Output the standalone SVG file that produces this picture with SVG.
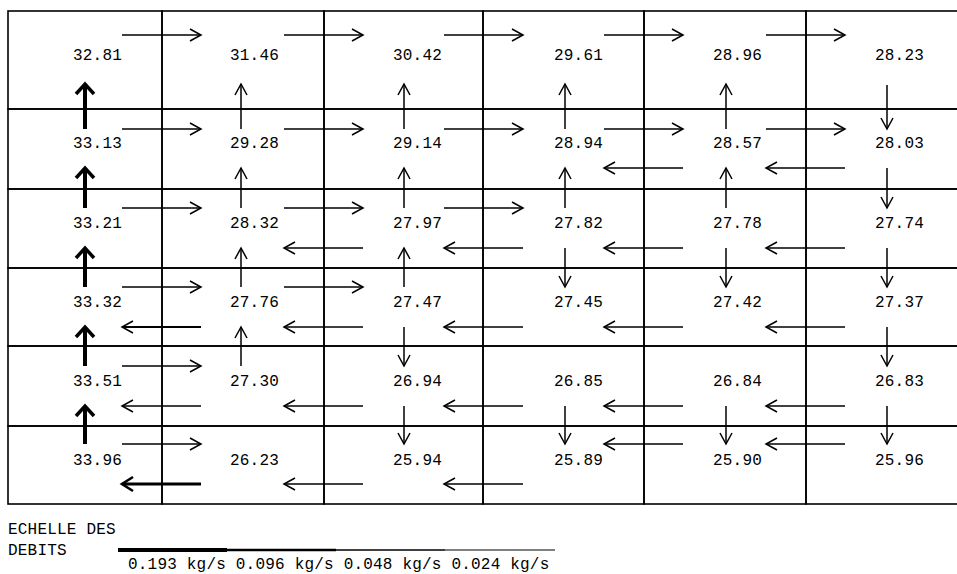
<svg xmlns="http://www.w3.org/2000/svg" width="957" height="574" viewBox="0 0 957 574">
<style>
  .cell{fill:none;stroke:#000;stroke-width:1.6}
  .val{font-family:"Liberation Mono","DejaVu Sans Mono",monospace;font-size:16px;letter-spacing:0.2px;fill:#000}
  .a{fill:none;stroke:#000;stroke-width:1.5;marker-end:url(#h)}
  .am{stroke-width:2.2}
  .at{stroke-width:4;marker-end:url(#ht)}
  .ab{stroke-width:3;marker-end:url(#hb)}
</style>
<defs>
  <marker id="h" markerUnits="userSpaceOnUse" viewBox="-14 -9 16 18" markerWidth="16" markerHeight="18" refX="0" refY="0" orient="auto" overflow="visible">
    <path d="M-11,-6 L0,0 L-11,6" fill="none" stroke="#000" stroke-width="1.5"/>
  </marker>
  <marker id="ht" markerUnits="userSpaceOnUse" viewBox="-14 -12 16 24" markerWidth="16" markerHeight="24" refX="0" refY="0" orient="auto" overflow="visible">
    <path d="M-10,-9 L0,0 L-10,9" fill="none" stroke="#000" stroke-width="3.5"/>
  </marker>
  <marker id="hb" markerUnits="userSpaceOnUse" viewBox="-14 -10 16 20" markerWidth="16" markerHeight="20" refX="0" refY="0" orient="auto" overflow="visible">
    <path d="M-11,-7 L0,0 L-11,7" fill="none" stroke="#000" stroke-width="2.6"/>
  </marker>
</defs>
<rect width="957" height="574" fill="#fff"/>

<g id="cell-r1c1"><rect class="cell" x="8" y="11" width="154" height="98"/><text class="val" x="73" y="60">32.81</text></g>
<g id="cell-r1c2"><rect class="cell" x="162" y="11" width="162" height="98"/><text class="val" x="230" y="60">31.46</text></g>
<g id="cell-r1c3"><rect class="cell" x="324" y="11" width="159" height="98"/><text class="val" x="393" y="60">30.42</text></g>
<g id="cell-r1c4"><rect class="cell" x="483" y="11" width="161" height="98"/><text class="val" x="554" y="60">29.61</text></g>
<g id="cell-r1c5"><rect class="cell" x="644" y="11" width="162" height="98"/><text class="val" x="713" y="60">28.96</text></g>
<g id="cell-r1c6"><rect class="cell" x="806" y="11" width="160" height="98"/><text class="val" x="875" y="60">28.23</text></g>

<g id="cell-r2c1"><rect class="cell" x="8" y="109" width="154" height="80"/><text class="val" x="73" y="148">33.13</text></g>
<g id="cell-r2c2"><rect class="cell" x="162" y="109" width="162" height="80"/><text class="val" x="230" y="148">29.28</text></g>
<g id="cell-r2c3"><rect class="cell" x="324" y="109" width="159" height="80"/><text class="val" x="393" y="148">29.14</text></g>
<g id="cell-r2c4"><rect class="cell" x="483" y="109" width="161" height="80"/><text class="val" x="554" y="148">28.94</text></g>
<g id="cell-r2c5"><rect class="cell" x="644" y="109" width="162" height="80"/><text class="val" x="713" y="148">28.57</text></g>
<g id="cell-r2c6"><rect class="cell" x="806" y="109" width="160" height="80"/><text class="val" x="875" y="148">28.03</text></g>

<g id="cell-r3c1"><rect class="cell" x="8" y="189" width="154" height="79"/><text class="val" x="73" y="228">33.21</text></g>
<g id="cell-r3c2"><rect class="cell" x="162" y="189" width="162" height="79"/><text class="val" x="230" y="228">28.32</text></g>
<g id="cell-r3c3"><rect class="cell" x="324" y="189" width="159" height="79"/><text class="val" x="393" y="228">27.97</text></g>
<g id="cell-r3c4"><rect class="cell" x="483" y="189" width="161" height="79"/><text class="val" x="554" y="228">27.82</text></g>
<g id="cell-r3c5"><rect class="cell" x="644" y="189" width="162" height="79"/><text class="val" x="713" y="228">27.78</text></g>
<g id="cell-r3c6"><rect class="cell" x="806" y="189" width="160" height="79"/><text class="val" x="875" y="228">27.74</text></g>

<g id="cell-r4c1"><rect class="cell" x="8" y="268" width="154" height="78"/><text class="val" x="73" y="307">33.32</text></g>
<g id="cell-r4c2"><rect class="cell" x="162" y="268" width="162" height="78"/><text class="val" x="230" y="307">27.76</text></g>
<g id="cell-r4c3"><rect class="cell" x="324" y="268" width="159" height="78"/><text class="val" x="393" y="307">27.47</text></g>
<g id="cell-r4c4"><rect class="cell" x="483" y="268" width="161" height="78"/><text class="val" x="554" y="307">27.45</text></g>
<g id="cell-r4c5"><rect class="cell" x="644" y="268" width="162" height="78"/><text class="val" x="713" y="307">27.42</text></g>
<g id="cell-r4c6"><rect class="cell" x="806" y="268" width="160" height="78"/><text class="val" x="875" y="307">27.37</text></g>

<g id="cell-r5c1"><rect class="cell" x="8" y="346" width="154" height="80"/><text class="val" x="73" y="386">33.51</text></g>
<g id="cell-r5c2"><rect class="cell" x="162" y="346" width="162" height="80"/><text class="val" x="230" y="386">27.30</text></g>
<g id="cell-r5c3"><rect class="cell" x="324" y="346" width="159" height="80"/><text class="val" x="393" y="386">26.94</text></g>
<g id="cell-r5c4"><rect class="cell" x="483" y="346" width="161" height="80"/><text class="val" x="554" y="386">26.85</text></g>
<g id="cell-r5c5"><rect class="cell" x="644" y="346" width="162" height="80"/><text class="val" x="713" y="386">26.84</text></g>
<g id="cell-r5c6"><rect class="cell" x="806" y="346" width="160" height="80"/><text class="val" x="875" y="386">26.83</text></g>

<g id="cell-r6c1"><rect class="cell" x="8" y="426" width="154" height="78"/><text class="val" x="73" y="465">33.96</text></g>
<g id="cell-r6c2"><rect class="cell" x="162" y="426" width="162" height="78"/><text class="val" x="230" y="465">26.23</text></g>
<g id="cell-r6c3"><rect class="cell" x="324" y="426" width="159" height="78"/><text class="val" x="393" y="465">25.94</text></g>
<g id="cell-r6c4"><rect class="cell" x="483" y="426" width="161" height="78"/><text class="val" x="554" y="465">25.89</text></g>
<g id="cell-r6c5"><rect class="cell" x="644" y="426" width="162" height="78"/><text class="val" x="713" y="465">25.90</text></g>
<g id="cell-r6c6"><rect class="cell" x="806" y="426" width="160" height="78"/><text class="val" x="875" y="465">25.96</text></g>

<g id="connectors">
  <!-- row 1 -->
  <path class="a" d="M122,35H201"/><path class="a" d="M284,35H363"/><path class="a" d="M444,35H523"/><path class="a" d="M604,35H683"/><path class="a" d="M766,35H845"/>
  <!-- row 2 -->
  <path class="a" d="M122,129H201"/><path class="a" d="M284,129H363"/><path class="a" d="M444,129H523"/><path class="a" d="M604,129H683"/><path class="a" d="M766,129H845"/>
  <path class="a" d="M683,168H604"/><path class="a" d="M845,168H766"/>
  <!-- row 3 -->
  <path class="a" d="M122,208H201"/><path class="a" d="M284,208H363"/><path class="a" d="M444,208H523"/>
  <path class="a" d="M363,248H284"/><path class="a" d="M523,248H444"/><path class="a" d="M683,248H604"/><path class="a" d="M845,248H766"/>
  <!-- row 4 -->
  <path class="a" d="M122,287H201"/><path class="a" d="M284,287H363"/>
  <path class="a am" d="M201,327H122"/><path class="a" d="M363,327H284"/><path class="a" d="M523,327H444"/><path class="a" d="M683,327H604"/><path class="a" d="M845,327H766"/>
  <!-- row 5 -->
  <path class="a" d="M122,366H201"/>
  <path class="a" d="M201,406H122"/><path class="a" d="M363,406H284"/><path class="a" d="M523,406H444"/><path class="a" d="M683,406H604"/><path class="a" d="M845,406H766"/>
  <!-- row 6 -->
  <path class="a" d="M122,444H201"/><path class="a" d="M683,444H604"/><path class="a" d="M845,444H766"/>
  <path class="a ab" d="M201,484H122"/><path class="a" d="M363,484H284"/><path class="a" d="M523,484H444"/>
  <!-- vertical, boundary 1 -->
  <path class="a at" d="M85,129V84"/><path class="a" d="M241,129V84"/><path class="a" d="M404,129V84"/><path class="a" d="M565,129V84"/><path class="a" d="M726,129V84"/><path class="a" d="M887,85V129"/>
  <!-- boundary 2 -->
  <path class="a at" d="M85,208V168"/><path class="a" d="M241,208V168"/><path class="a" d="M404,208V168"/><path class="a" d="M565,208V168"/><path class="a" d="M726,208V168"/><path class="a" d="M887,168V208"/>
  <!-- boundary 3 -->
  <path class="a at" d="M85,287V248"/><path class="a" d="M241,287V248"/><path class="a" d="M404,287V248"/><path class="a" d="M565,248V287"/><path class="a" d="M726,248V287"/><path class="a" d="M887,248V287"/>
  <!-- boundary 4 -->
  <path class="a at" d="M85,366V327"/><path class="a" d="M241,366V327"/><path class="a" d="M404,327V366"/><path class="a" d="M887,327V366"/>
  <!-- boundary 5 -->
  <path class="a at" d="M85,444V406"/><path class="a" d="M404,406V444"/><path class="a" d="M565,406V444"/><path class="a" d="M726,406V444"/><path class="a" d="M887,406V444"/>
</g>

<g id="legend">
  <text class="val" x="8" y="534">ECHELLE DES</text>
  <text class="val" x="8" y="555">DEBITS</text>
  <path d="M118,550H227" stroke="#000" stroke-width="4"/>
  <path d="M227,550H336" stroke="#000" stroke-width="2.4"/>
  <path d="M336,550H445" stroke="#000" stroke-width="1.7"/>
  <path d="M445,550H555" stroke="#000" stroke-width="1.2"/>
  <text class="val" x="128" y="569">0.193 kg/s 0.096 kg/s 0.048 kg/s 0.024 kg/s</text>
</g>
</svg>
